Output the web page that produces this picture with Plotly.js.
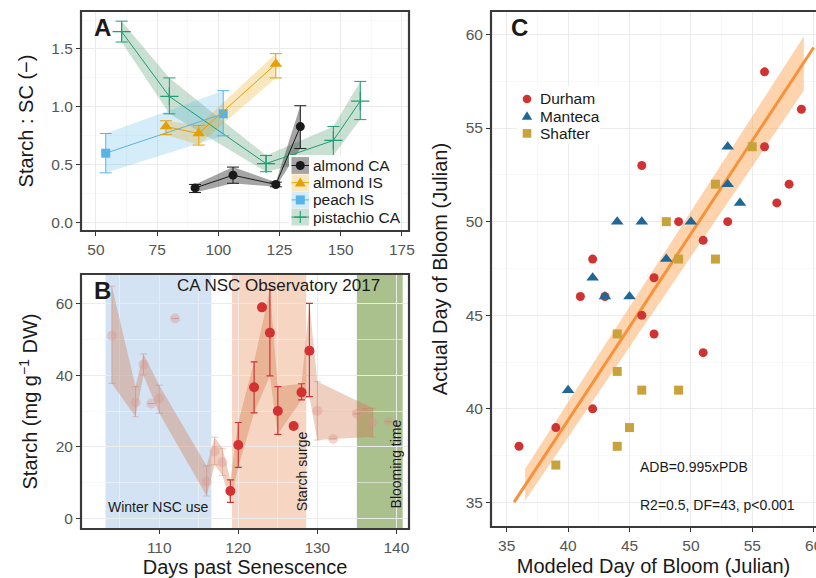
<!DOCTYPE html>
<html><head><meta charset="utf-8">
<script src="https://cdn.plot.ly/plotly-3.0.1.min.js"></script>
<style>html,body{margin:0;padding:0;background:#fff}#chart{width:816px;height:578px}</style>
</head><body><div id="chart"></div>
<script>
// ---------------- Panel A data ----------------
const aNames = ['almond CA', 'almond IS', 'peach IS', 'pistachio CA'];
const almondCA_x  = [90.5, 106, 123.5, 133.5];
const almondCA_y  = [0.30, 0.41, 0.33, 0.83];
const almondCA_lo = [0.26, 0.34, 0.31, 0.64];
const almondCA_hi = [0.33, 0.48, 0.35, 1.01];
const almondIS_x  = [78.6, 92, 123.5];
const almondIS_y  = [0.83, 0.77, 1.37];
const almondIS_lo = [0.76, 0.67, 1.25];
const almondIS_hi = [0.88, 0.84, 1.46];
const peachIS_x   = [54, 102];
const peachIS_y   = [0.60, 0.94];
const peachIS_lo  = [0.43, 0.75];
const peachIS_hi  = [0.77, 1.14];
const pistCA_x    = [60.5, 80, 119.5, 147, 158];
const pistCA_y    = [1.65, 1.09, 0.51, 0.71, 1.05];
const pistCA_lo   = [1.56, 0.94, 0.44, 0.58, 0.89];
const pistCA_hi   = [1.74, 1.25, 0.58, 0.83, 1.22];

// ---------------- Panel B data ----------------
const bTitle = 'CA NSC Observatory 2017';
const fadedX  = [104, 107, 108, 109, 110, 112, 116, 117, 118, 130, 132, 135, 136, 137, 139];
const fadedY  = [51.0, 32.4, 43.0, 32.1, 33.4, 55.8, 10.3, 18.7, 15.7, 30.0, 22.2, 29.2, 30.6, 26.9, 27.0];
const fadedLo = [37.7, 28.4, 40.0, null, 29.4, null, 6.3, 15.0, 12.0, 21.9, null, null, null, 22.8, null];
const fadedHi = [64.8, 36.8, 45.9, null, 37.2, null, 14.7, 22.7, 19.6, 38.2, null, null, null, 30.8, null];
const redX  = [119, 120, 122, 123, 124, 125, 127, 128, 129];
const redY  = [7.7, 20.5, 36.6, 58.9, 51.8, 30.0, 25.8, 35.2, 46.8];
const redLo = [4.5, 14.3, 29.5, null, 39.8, 23.5, null, 33.1, 34.0];
const redHi = [10.8, 26.8, 43.7, null, 63.9, 36.8, null, 37.6, 60.0];
const phaseNames = ['Winter NSC use', 'Starch surge', 'Blooming time'];
const phaseStart = [103.2, 119.2, 135.0];
const phaseEnd   = [116.6, 128.6, 140.8];

// ---------------- Panel C data ----------------
const cNames = ['Durham', 'Manteca', 'Shafter'];
const durhamX  = [56, 59, 56, 46, 58, 57, 49, 53, 51, 42, 47, 41, 43, 46, 47, 51, 42, 39, 36];
const durhamY  = [58, 56, 54, 53, 52, 51, 50, 50, 49, 48, 47, 46, 46, 45, 44, 43, 40, 39, 38];
const mantecaX = [53, 53, 54, 44, 46, 50, 48, 42, 43, 45, 40];
const mantecaY = [54, 52, 51, 50, 50, 50, 48, 47, 46, 46, 41];
const shafterX = [55, 52, 48, 49, 52, 44, 44, 46, 49, 45, 44, 39];
const shafterY = [54, 52, 50, 48, 48, 44, 42, 41, 41, 39, 38, 37];
const fitSlope = 0.995, fitIntercept = -0.4;
const fitXRange = [35.6, 60];
const bandX  = [36.5, 59.2];
const bandLo = [35.1, 57.0];
const bandHi = [36.8, 59.9];
const fitLabel1 = 'ADB=0.995xPDB';
const fitLabel2 = 'R2=0.5, DF=43, p<0.001';

// ---------------- helpers ----------------
const W = 816, H = 578;
const FONT = '"Liberation Sans", Arial, Helvetica, sans-serif';
const px = v => v / W;
const py = v => 1 - v / H;
const pt = (x, y) => px(x) + ',' + py(y);
const errUp = (y, hi) => y.map((v, i) => hi[i] == null ? null : hi[i] - v);
const errDn = (y, lo) => y.map((v, i) => lo[i] == null ? null : v - lo[i]);
function ribbon(xs, lo, hi) {
  const idx = xs.map((_, i) => i).filter(i => lo[i] != null && hi[i] != null).sort((a, b) => xs[a] - xs[b]);
  const X = idx.map(i => xs[i]), L = idx.map(i => lo[i]), U = idx.map(i => hi[i]);
  return { x: X.concat(X.slice().reverse()), y: U.concat(L.slice().reverse()) };
}

const aStyle = [
  { x: almondCA_x, y: almondCA_y, lo: almondCA_lo, hi: almondCA_hi, color: '#1a1a1a', fill: 'rgba(40,40,40,0.42)', symbol: 'circle', size: 9 },
  { x: almondIS_x, y: almondIS_y, lo: almondIS_lo, hi: almondIS_hi, color: '#E69F00', fill: 'rgba(230,159,0,0.25)', symbol: 'triangle-up', size: 11 },
  { x: peachIS_x, y: peachIS_y, lo: peachIS_lo, hi: peachIS_hi, color: '#56B4E9', fill: 'rgba(86,180,233,0.25)', symbol: 'square', size: 9 },
  { x: pistCA_x, y: pistCA_y, lo: pistCA_lo, hi: pistCA_hi, color: '#1E9E72', fill: 'rgba(40,130,80,0.25)', symbol: 'cross-thin-open', size: 13 }
];

const traces = [];
[3, 2, 1, 0].forEach(k => {
  const s = aStyle[k], r = ribbon(s.x, s.lo, s.hi);
  traces.push({ x: r.x, y: r.y, xaxis: 'x', yaxis: 'y', type: 'scatter', mode: 'lines', fill: 'toself',
    fillcolor: s.fill, line: { width: 0 }, hoverinfo: 'skip', showlegend: false });
});
[3, 2, 1, 0].forEach(k => {
  const s = aStyle[k];
  traces.push({ x: s.x, y: s.y, xaxis: 'x', yaxis: 'y', type: 'scatter', mode: 'lines+markers', name: aNames[k],
    line: { color: s.color, width: 1 },
    marker: { color: s.color, symbol: s.symbol, size: s.size, line: { color: s.color, width: s.symbol === 'cross-thin-open' ? 1.2 : 0 } },
    error_y: { type: 'data', symmetric: false, array: errUp(s.y, s.hi), arrayminus: errDn(s.y, s.lo), color: s.color, thickness: 1, width: 6 },
    showlegend: false });
});

// Panel B
const allBX = fadedX.concat(redX), allBLo = fadedLo.concat(redLo), allBHi = fadedHi.concat(redHi);
const rb = ribbon(allBX, allBLo, allBHi);
traces.push({ x: rb.x, y: rb.y, xaxis: 'x2', yaxis: 'y2', type: 'scatter', mode: 'lines', fill: 'toself',
  fillcolor: 'rgba(205,105,60,0.32)', line: { width: 0 }, hoverinfo: 'skip', showlegend: false });
traces.push({ x: fadedX, y: fadedY, xaxis: 'x2', yaxis: 'y2', type: 'scatter', mode: 'markers',
  marker: { color: 'rgba(215,150,140,0.38)', size: 10 },
  error_y: { type: 'data', symmetric: false, array: errUp(fadedY, fadedHi), arrayminus: errDn(fadedY, fadedLo), color: 'rgba(200,110,90,0.35)', thickness: 1, width: 3.5 },
  showlegend: false });
traces.push({ x: redX, y: redY, xaxis: 'x2', yaxis: 'y2', type: 'scatter', mode: 'markers',
  marker: { color: '#d23232', size: 10 },
  error_y: { type: 'data', symmetric: false, array: errUp(redY, redHi), arrayminus: errDn(redY, redLo), color: '#d23232', thickness: 1.2, width: 3.5 },
  showlegend: false });

// Panel C
traces.push({ x: bandX.concat(bandX.slice().reverse()), y: bandHi.concat(bandLo.slice().reverse()), xaxis: 'x3', yaxis: 'y3',
  type: 'scatter', mode: 'lines', fill: 'toself', fillcolor: 'rgba(253,170,95,0.5)', line: { width: 0 }, hoverinfo: 'skip', showlegend: false });
traces.push({ x: fitXRange, y: fitXRange.map(v => fitSlope * v + fitIntercept), xaxis: 'x3', yaxis: 'y3', type: 'scatter', mode: 'lines',
  line: { color: '#f7923a', width: 3 }, showlegend: false });
const cStyle = [
  { x: durhamX, y: durhamY, color: '#d03432', symbol: 'circle', size: 9 },
  { x: mantecaX, y: mantecaY, color: '#1f6797', symbol: 'triangle-up', size: 11 },
  { x: shafterX, y: shafterY, color: '#c9a23c', symbol: 'square', size: 9 }
];
[2, 0, 1].forEach(k => {
  const s = cStyle[k];
  traces.push({ x: s.x, y: s.y, xaxis: 'x3', yaxis: 'y3', type: 'scatter', mode: 'markers', name: cNames[k],
    marker: { color: s.color, symbol: s.symbol, size: s.size }, showlegend: false });
});

// ---------------- axes ----------------
const tickFont = { family: FONT, size: 15.5, color: '#555555' };
const titleFont = { family: FONT, size: 20, color: '#1a1a1a' };
function ax(extra) {
  return Object.assign({ showgrid: true, gridcolor: '#ebebeb', gridwidth: 1, zeroline: false, showline: false,
    ticks: 'outside', ticklen: 4, tickwidth: 1, tickcolor: '#333333', tickfont: tickFont, fixedrange: true, automargin: false }, extra);
}
function minor(first, step, count) {
  const vals = [];
  for (let i = 0; i < count; i++) vals.push(+(first + i * step).toFixed(4));
  return { tickmode: 'array', tickvals: vals, ticks: '', showgrid: true, gridcolor: '#f4f4f4', gridwidth: 0.6 };
}

// ---------------- shapes ----------------
const shapes = [];
const bandColors = ['#d4e3f3', '#f6d6c2', '#aac18d'];
phaseStart.forEach((s, i) => shapes.push({ type: 'rect', xref: 'x2', yref: 'y2 domain', x0: s, x1: phaseEnd[i], y0: 0, y1: 1,
  fillcolor: bandColors[i], line: { width: 0 }, layer: 'below' }));
const frame = (x0, y0, x1, y1) => ({ type: 'rect', xref: 'paper', yref: 'paper', x0: px(x0), x1: px(x1), y0: py(y1), y1: py(y0),
  line: { color: '#3a3a3a', width: 2.2 }, fillcolor: 'rgba(0,0,0,0)', layer: 'above' });
shapes.push(frame(81, 11, 409, 231), frame(81, 274, 409, 529), frame(491, 11, 830, 527));

const annotations = [];
function marker(sym, cx, cy, color, r) {
  if (sym === 'circle') return { type: 'circle', xref: 'paper', yref: 'paper', x0: px(cx - r), x1: px(cx + r), y0: py(cy + r), y1: py(cy - r), fillcolor: color, line: { width: 0 } };
  if (sym === 'square') return { type: 'rect', xref: 'paper', yref: 'paper', x0: px(cx - r), x1: px(cx + r), y0: py(cy + r), y1: py(cy - r), fillcolor: color, line: { width: 0 } };
  if (sym === 'triangle-up') return { type: 'path', xref: 'paper', yref: 'paper', path: 'M' + pt(cx, cy - r * 1.15) + 'L' + pt(cx - r * 1.2, cy + r * 0.85) + 'L' + pt(cx + r * 1.2, cy + r * 0.85) + 'Z', fillcolor: color, line: { width: 0 } };
  return { type: 'path', xref: 'paper', yref: 'paper', path: 'M' + pt(cx - r, cy) + 'L' + pt(cx + r, cy) + 'M' + pt(cx, cy - r) + 'L' + pt(cx, cy + r), line: { color: color, width: 1.1 } };
}
// Legend A
shapes.push({ type: 'rect', xref: 'paper', yref: 'paper', x0: px(289), x1: px(401), y0: py(226), y1: py(155), fillcolor: 'rgba(255,255,255,0.92)', line: { width: 0 }, layer: 'above' });
aNames.forEach((n, i) => {
  const s = aStyle[i], cy = 165.5 + i * 17.2, cx = 300.3;
  shapes.push({ type: 'rect', xref: 'paper', yref: 'paper', x0: px(291.5), x1: px(309), y0: py(cy + 8.4), y1: py(cy - 8.4), fillcolor: s.fill, line: { width: 0 }, layer: 'above' });
  shapes.push({ type: 'line', xref: 'paper', yref: 'paper', x0: px(291.5), x1: px(309), y0: py(cy), y1: py(cy), line: { color: s.color, width: 1 }, layer: 'above' });
  shapes.push(Object.assign(marker(s.symbol, cx, cy, s.color, s.symbol === 'cross-thin-open' ? 6 : 4.5), { layer: 'above' }));
  annotations.push({ xref: 'paper', yref: 'paper', x: px(310.5), y: py(cy), xanchor: 'left', yanchor: 'middle', showarrow: false, text: n, font: { family: FONT, size: 15.5, color: '#1a1a1a' } });
});
// Legend C
shapes.push({ type: 'rect', xref: 'paper', yref: 'paper', x0: px(517), x1: px(600), y0: py(144), y1: py(86), fillcolor: '#ffffff', line: { width: 0 }, layer: 'above' });
cNames.forEach((n, i) => {
  const s = cStyle[i], cy = 99 + i * 17.2, cx = 527;
  shapes.push(Object.assign(marker(s.symbol, cx, cy, s.color, 4.3), { layer: 'above' }));
  annotations.push({ xref: 'paper', yref: 'paper', x: px(537.5), y: py(cy), xanchor: 'left', yanchor: 'middle', showarrow: false, text: n, font: { family: FONT, size: 15.5, color: '#1a1a1a' } });
});

// panel letters and labels
[['A', 102, 27], ['B', 102, 290], ['C', 519, 28]].forEach(([t, x, y]) => annotations.push({ xref: 'paper', yref: 'paper', x: px(x), y: py(y),
  xanchor: 'center', yanchor: 'middle', showarrow: false, text: '<b>' + t + '</b>', font: { family: FONT, size: 24, color: '#1a1a1a' } }));
annotations.push({ xref: 'paper', yref: 'paper', x: px(278), y: py(285), xanchor: 'center', yanchor: 'middle', showarrow: false, text: bTitle, font: { family: FONT, size: 17, color: '#1a1a1a' } });
annotations.push({ xref: 'x2', yref: 'y2', x: (phaseStart[0] + phaseEnd[0]) / 2, y: 3.3, xanchor: 'center', yanchor: 'middle', showarrow: false, text: phaseNames[0], font: { family: FONT, size: 14, color: '#1a1a1a' } });
annotations.push({ xref: 'x2', yref: 'y2', x: 128.0, y: 13.1, xanchor: 'center', yanchor: 'middle', showarrow: false, textangle: -90, text: phaseNames[1], font: { family: FONT, size: 14, color: '#1a1a1a' } });
annotations.push({ xref: 'x2', yref: 'y2', x: 140.0, y: 15.2, xanchor: 'center', yanchor: 'middle', showarrow: false, textangle: -90, text: phaseNames[2], font: { family: FONT, size: 14, color: '#1a1a1a' } });
annotations.push({ xref: 'paper', yref: 'paper', x: px(638), y: py(467), xanchor: 'left', yanchor: 'middle', showarrow: false, text: fitLabel1, font: { family: FONT, size: 14, color: '#1a1a1a' } });
annotations.push({ xref: 'paper', yref: 'paper', x: px(638), y: py(505), xanchor: 'left', yanchor: 'middle', showarrow: false, text: fitLabel2, font: { family: FONT, size: 14, color: '#1a1a1a' } });

const layout = {
  width: W, height: H, margin: { l: 0, r: 0, t: 0, b: 0 }, paper_bgcolor: '#ffffff', plot_bgcolor: '#ffffff',
  showlegend: false, font: { family: FONT },
  xaxis: ax({ domain: [px(81), px(409)], range: [43.9, 177.9], tick0: 50, dtick: 25, minor: minor(62.5, 25, 5), anchor: 'y' }),
  yaxis: ax({ domain: [py(231), py(11)], range: [-0.072, 1.828], tick0: 0, dtick: 0.5, tickformat: '.1f', minor: minor(0.25, 0.5, 4), anchor: 'x',
    title: { text: 'Starch : SC (−)', font: titleFont, standoff: 12 } }),
  xaxis2: ax({ domain: [px(81), px(409)], range: [100.1, 141.6], tick0: 110, dtick: 10, minor: minor(105, 10, 4), anchor: 'y2',
    title: { text: 'Days past Senescence', font: titleFont, standoff: 6 } }),
  yaxis2: ax({ domain: [py(529), py(274)], range: [-2.9, 68.2], tick0: 0, dtick: 20, minor: minor(10, 20, 3), anchor: 'x2',
    title: { text: 'Starch (mg g<sup>−1</sup> DW)', font: titleFont, standoff: 12 } }),
  xaxis3: ax({ domain: [px(491), 1], range: [33.72, 60.19], tick0: 35, dtick: 5, minor: minor(37.5, 5, 5), anchor: 'y3', ticklabeloverflow: 'allow',
    title: { text: 'Modeled Day of Bloom (Julian)', font: titleFont, standoff: 6 } }),
  yaxis3: ax({ domain: [py(527), py(11)], range: [33.69, 61.25], tick0: 35, dtick: 5, minor: minor(37.5, 5, 5), anchor: 'x3',
    title: { text: 'Actual Day of Bloom (Julian)', font: titleFont, standoff: 12 } }),
  shapes: shapes, annotations: annotations
};
Plotly.newPlot('chart', traces, layout, { staticPlot: true, displayModeBar: false });
</script></body></html>
